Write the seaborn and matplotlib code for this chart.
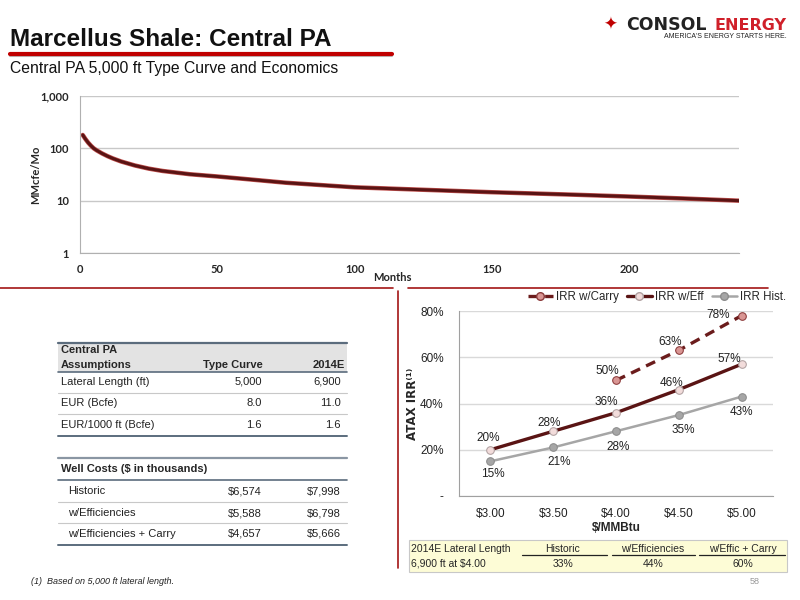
import numpy as np
import pandas as pd
import matplotlib
matplotlib.use('Agg')
import matplotlib.pyplot as plt
import seaborn as sns
from matplotlib.lines import Line2D
from matplotlib.patches import Rectangle
from matplotlib.ticker import FixedLocator, FuncFormatter

# Type curve
months = [1, 2, 3, 4, 5, 6, 8, 10, 12, 15, 20, 25, 30, 40, 50, 60, 75, 90,
          100, 120, 150, 180, 200, 220, 240]
rate = [180, 150, 128, 112, 100, 92, 80, 71, 64, 56, 47, 41, 37, 32, 29, 26,
        22, 19.5, 18, 16.5, 14.5, 13, 12, 11, 10]

# IRR chart
prices = [3.00, 3.50, 4.00, 4.50, 5.00]
price_labels = ['$3.00', '$3.50', '$4.00', '$4.50', '$5.00']
irr_carry = [np.nan, np.nan, 50, 63, 78]
irr_eff = [20, 28, 36, 46, 57]
irr_hist = [15, 21, 28, 35, 43]

# Tables
assump_rows = ['Lateral Length (ft)', 'EUR (Bcfe)', 'EUR/1000 ft (Bcfe)']
assump_type = ['5,000', '8.0', '1.6']
assump_2014 = ['6,900', '11.0', '1.6']
cost_rows = ['Historic', 'w/Efficiencies', 'w/Efficiencies + Carry']
cost_type = ['$6,574', '$5,588', '$4,657']
cost_2014 = ['$7,998', '$6,798', '$5,666']
box_heads = ['Historic', 'w/Efficiencies', 'w/Effic + Carry']
box_vals = ['33%', '44%', '60%']

sns.set_style('white')
plt.rcParams['font.family'] = ['Liberation Sans', 'DejaVu Sans']

fig = plt.figure(figsize=(8, 6), dpi=100)


def fx(px):
    return px / 800


def fy(py):
    return 1 - py / 600


def hline(x0, x1, y, color, lw):
    fig.add_artist(Line2D([fx(x0), fx(x1)], [fy(y), fy(y)], color=color, lw=lw,
                          transform=fig.transFigure))


# ---- header ----
fig.text(fx(10), fy(39), 'Marcellus Shale: Central PA', fontsize=17.5, fontweight='bold',
         va='center', color='#111111')
hline(10, 392, 55.5, '#bbbbbb', 1.5)
hline(10, 392, 53.5, '#c00000', 3)
fig.text(fx(10), fy(69), 'Central PA 5,000 ft Type Curve and Economics', fontsize=11.3,
         va='center', color='#111111')
fig.text(fx(603), fy(25), '\u2726', fontsize=12, color='#c00000', va='center')
fig.text(fx(626), fy(25), 'CONSOL', fontsize=12.5, fontweight='bold', color='#222222',
         va='center', family=['DejaVu Sans'])
fig.text(fx(787), fy(25), 'ENERGY', fontsize=11.5, fontweight='bold', color='#d0202a',
         va='center', ha='right', family=['DejaVu Sans'])
fig.text(fx(787), fy(37), "AMERICA'S ENERGY STARTS HERE.", fontsize=5, color='#222222',
         va='center', ha='right')

# ---- type curve ----
ax1 = fig.add_axes([fx(80), fy(253), (739 - 80) / 800, (253 - 96) / 600])
sns.lineplot(x=months, y=rate, ax=ax1, color='#c0504d', lw=3.2)
sns.lineplot(x=months, y=rate, ax=ax1, color='#5a1414', lw=2.2)
ax1.set_yscale('log')
ax1.set_ylim(1, 1000)
ax1.set_xlim(0, 240)
ax1.set_xticks([0, 50, 100, 150, 200])
ax1.yaxis.set_major_locator(FixedLocator([1, 10, 100, 1000]))
ax1.yaxis.set_minor_locator(FixedLocator([]))
ax1.yaxis.set_major_formatter(FuncFormatter(lambda v, p: f'{int(v):,}'))
ax1.grid(axis='y', color='#c8c8c8', lw=1)
for s in ['top', 'right']:
    ax1.spines[s].set_visible(False)
for s in ['left', 'bottom']:
    ax1.spines[s].set_color('#b0b0b0')
ax1.tick_params(axis='both', length=3, color='#b0b0b0', labelsize=8, pad=5)
for lab in ax1.get_xticklabels() + ax1.get_yticklabels():
    lab.set_family(['Lato', 'DejaVu Sans'])
    lab.set_fontweight('bold')
ax1.set_xlabel('Months', fontsize=8, fontweight='bold', family=['Lato', 'DejaVu Sans'])
ax1.xaxis.set_label_coords((392 - 80) / 659, -0.12)
ax1.set_ylabel('MMcfe/Mo', fontsize=8, fontweight='bold', family=['Lato', 'DejaVu Sans'])
ax1.yaxis.set_label_coords((41 - 80) / 659, 0.5)

# ---- separators ----
hline(0, 393, 288, '#a31515', 1.2)
hline(408, 768, 288, '#a31515', 1.2)
fig.add_artist(Line2D([fx(398), fx(398)], [fy(291), fy(568)], color='#a31515', lw=1.2,
                      transform=fig.transFigure))

# ---- IRR chart ----
ax2 = fig.add_axes([fx(459), fy(496), (773 - 459) / 800, (496 - 311) / 600])
df = pd.DataFrame({'price': prices, 'carry': irr_carry, 'eff': irr_eff, 'hist': irr_hist})
sns.lineplot(data=df, x='price', y='hist', ax=ax2, color='#a6a6a6', lw=1.8, marker='o',
             markersize=5.5, markerfacecolor='#a6a6a6', markeredgecolor='#8c8c8c')
sns.lineplot(data=df, x='price', y='eff', ax=ax2, color='#5a1414', lw=2.4, marker='o',
             markersize=5.5, markerfacecolor='#f2dcdb', markeredgecolor='#b0a0a0')
sns.lineplot(data=df.dropna(), x='price', y='carry', ax=ax2, color='#6b1c1c', lw=2.4,
             marker='o', markersize=5.5, markerfacecolor='#d99694',
             markeredgecolor='#8b3a3a', dashes=(3, 2))
ax2.set_xlim(2.75, 5.25)
ax2.set_ylim(0, 80)
ax2.set_xticks(prices)
ax2.set_xticklabels(price_labels)
ax2.xaxis.set_minor_locator(FixedLocator([2.75, 3.25, 3.75, 4.25, 4.75, 5.25]))
ax2.set_yticks([0, 20, 40, 60, 80])
ax2.yaxis.set_major_formatter(FuncFormatter(lambda v, p: '-' if v == 0 else f'{int(v)}%'))
ax2.grid(axis='y', color='#d9d9d9', lw=1)
for s in ['top', 'right']:
    ax2.spines[s].set_visible(False)
for s in ['left', 'bottom']:
    ax2.spines[s].set_color('#a0a0a0')
ax2.tick_params(axis='x', which='major', length=0, labelsize=8.5, pad=9, colors='#222222')
ax2.tick_params(axis='x', which='minor', length=4, color='#a0a0a0')
ax2.tick_params(axis='y', length=3, color='#a0a0a0', labelsize=8.5, pad=8, colors='#222222')
ax2.set_xlabel('$/MMBtu', fontsize=8.5, fontweight='bold', labelpad=1)
ax2.set_ylabel('ATAX IRR\u207d\u00b9\u207e', fontsize=8.5, fontweight='bold',
               family=['DejaVu Sans'])
ax2.yaxis.set_label_coords((419 - 459) / 314, 0.5)

hist_off = [(2, -13), (6, -15), (2, -16), (4, -15), (0, -15)]
eff_off = [(-2, 12), (-4, 8), (-10, 11), (-7, 7), (-12, 5)]
carry_off = [None, None, (-9, 9), (-9, 8), (-23, 1)]
for x, h, e, c, ho, eo, co in zip(prices, irr_hist, irr_eff, irr_carry, hist_off, eff_off,
                                  carry_off):
    ax2.annotate(f'{h}%', (x, h), xytext=ho, textcoords='offset pixels', ha='center',
                 va='center', fontsize=8.5, color='#222222')
    ax2.annotate(f'{e}%', (x, e), xytext=eo, textcoords='offset pixels', ha='center',
                 va='center', fontsize=8.5, color='#222222')
    if co is not None:
        ax2.annotate(f'{int(c)}%', (x, c), xytext=co, textcoords='offset pixels',
                     ha='center', va='center', fontsize=8.5, color='#222222')

handles = [
    Line2D([], [], color='#6b1c1c', lw=2.4, dashes=(3, 2), marker='o', markersize=5.5,
           markerfacecolor='#d99694', markeredgecolor='#8b3a3a'),
    Line2D([], [], color='#5a1414', lw=2.4, marker='o', markersize=5.5,
           markerfacecolor='#f2dcdb', markeredgecolor='#b0a0a0'),
    Line2D([], [], color='#a6a6a6', lw=1.8, marker='o', markersize=5.5,
           markerfacecolor='#a6a6a6', markeredgecolor='#8c8c8c'),
]
ax2.legend(handles, ['IRR w/Carry', 'IRR w/Eff', 'IRR Hist.'], loc='lower right',
           bbox_to_anchor=(1.06, 1.01), ncol=3, frameon=False, fontsize=8.3,
           handlelength=2.2, handletextpad=0.25, columnspacing=0.7, borderpad=0)

# ---- assumptions table ----
fig.add_artist(Rectangle((fx(58), fy(372)), fx(347) - fx(58), fy(343) - fy(372),
                         transform=fig.transFigure, color='#e3e3e3', lw=0))
dark = '#5b6c7d'
light = '#c8c8c8'
hline(58, 347, 343, dark, 1.6)
hline(58, 347, 372, dark, 1.2)
fig.text(fx(61), fy(350), 'Central PA', fontsize=8, fontweight='bold', va='center')
fig.text(fx(61), fy(365), 'Assumptions', fontsize=8, fontweight='bold', va='center')
fig.text(fx(263), fy(365), 'Type Curve', fontsize=8, fontweight='bold', va='center',
         ha='right')
fig.text(fx(345), fy(365), '2014E', fontsize=8, fontweight='bold', va='center', ha='right')
row_y = [382, 403, 425]
for i, (name, a, b) in enumerate(zip(assump_rows, assump_type, assump_2014)):
    fig.text(fx(61), fy(row_y[i]), name, fontsize=8, va='center', color='#222222')
    fig.text(fx(262), fy(row_y[i]), a, fontsize=8, va='center', ha='right', color='#222222')
    fig.text(fx(341), fy(row_y[i]), b, fontsize=8, va='center', ha='right', color='#222222')
hline(58, 347, 393, light, 0.8)
hline(58, 347, 414, light, 0.8)
hline(58, 347, 436, dark, 1.4)

hline(58, 347, 458, '#8a96a3', 1.6)
fig.text(fx(61), fy(469), 'Well Costs ($ in thousands)', fontsize=8, fontweight='bold',
         va='center')
hline(58, 347, 480, dark, 1.2)
cost_y = [491, 513, 534]
for i, (name, a, b) in enumerate(zip(cost_rows, cost_type, cost_2014)):
    fig.text(fx(68), fy(cost_y[i]), name, fontsize=8, va='center', color='#222222')
    fig.text(fx(262), fy(cost_y[i]), a, fontsize=8, va='center', ha='right', color='#222222')
    fig.text(fx(341), fy(cost_y[i]), b, fontsize=8, va='center', ha='right', color='#222222')
hline(58, 347, 502, light, 0.8)
hline(58, 347, 523, light, 0.8)
hline(58, 347, 545, dark, 1.4)

fig.text(fx(31), fy(581), '(1)  Based on 5,000 ft lateral length.', fontsize=6.5,
         style='italic', va='center', color='#222222')
fig.text(fx(755), fy(582), '58', fontsize=6.5, color='#999999', va='center', ha='center')

# ---- bottom-right box ----
fig.add_artist(Rectangle((fx(409), fy(572)), fx(787) - fx(409), fy(540) - fy(572),
                         transform=fig.transFigure, facecolor='#fdfcd6',
                         edgecolor='#c8c8c8', lw=0.8))
fig.text(fx(411), fy(549), '2014E Lateral Length', fontsize=7.5, va='center')
fig.text(fx(411), fy(564), '6,900 ft at $4.00', fontsize=7.5, va='center')
centers = [563, 653, 743]
spans = [(522, 607), (612, 695), (699, 785)]
for c, (s0, s1), h, v in zip(centers, spans, box_heads, box_vals):
    fig.text(fx(c), fy(549), h, fontsize=7.5, va='center', ha='center')
    fig.text(fx(c), fy(564), v, fontsize=7.5, va='center', ha='center')
    hline(s0, s1, 555, '#222222', 0.9)

fig.savefig('out.png', dpi=100)
